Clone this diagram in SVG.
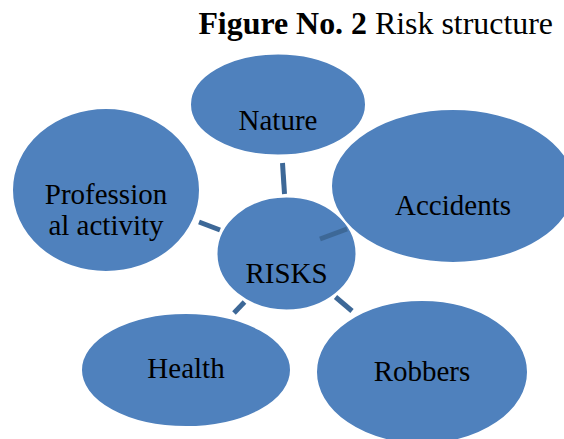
<svg xmlns="http://www.w3.org/2000/svg" width="564" height="439" viewBox="0 0 564 439">
<style>
.n{fill:#4f81bd;stroke:#ffffff;stroke-width:2}
.c{stroke:#3d6897;stroke-width:5;fill:none}
</style>
<rect width="564" height="439" fill="#ffffff"/>
<text x="553" y="34" font-family="Liberation Serif, serif" font-size="31.9" text-anchor="end"><tspan font-weight="bold">Figure No. 2</tspan> Risk structure</text>
<g font-family="Liberation Serif, serif" font-size="29" text-anchor="middle" fill="#000000">
<g id="risks"><ellipse class="n" cx="286.5" cy="253.5" rx="70" ry="57"/><text x="286.5" y="283">RISKS</text></g>
<g id="nature"><ellipse class="n" cx="278" cy="104.5" rx="88" ry="51"/><text x="278" y="130">Nature</text></g>
<g id="accidents"><ellipse class="n" cx="453" cy="186" rx="122" ry="77"/><text x="453" y="215">Accidents</text></g>
<g id="robbers"><ellipse class="n" cx="422" cy="372" rx="106" ry="72"/><text x="422" y="381">Robbers</text></g>
<g id="health"><ellipse class="n" cx="186" cy="370" rx="105" ry="57"/><text x="186" y="378">Health</text></g>
<g id="professional"><ellipse class="n" cx="106" cy="190" rx="94" ry="82"/><text x="106" y="204">Profession</text><text x="106" y="235">al activity</text></g>
</g>
<g id="connectors">
<line class="c" x1="282.5" y1="163" x2="284.5" y2="194"/>
<line class="c" x1="199" y1="222" x2="220" y2="230"/>
<line class="c" x1="320" y1="239" x2="347" y2="229"/>
<line class="c" x1="244.5" y1="302" x2="234" y2="313"/>
<line class="c" x1="335.5" y1="297" x2="352" y2="311"/>
</g>
</svg>
